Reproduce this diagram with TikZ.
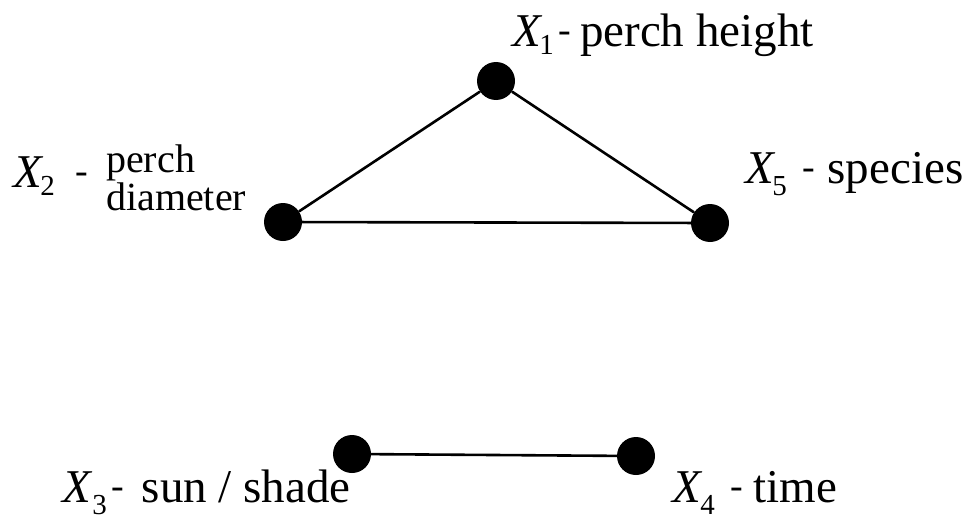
\documentclass[tikz,border=0pt]{standalone}
\usepackage{fontspec}
\setmainfont{Liberation Serif}[Ligatures=TeX]
\newfontfamily\labelfont{Liberation Serif}
\usepackage{tikz}
\usepackage{xcolor}

% variable name with a lowered index
\newcommand{\xvar}[3][8]{\textit{X}\kern#3pt\raisebox{-#1pt}{\fontsize{29}{29}\selectfont #2}}
% dash between name and meaning
\newcommand{\sep}[2]{\kern#1pt\raisebox{4pt}{\fontsize{38}{38}\selectfont -}\kern#2pt}

\begin{document}
\begin{tikzpicture}[x=1pt,y=-1pt,
  vertex/.style={circle, fill=black, draw=none, inner sep=0pt, minimum size=38pt},
  edge/.style={line width=2.6pt, black},
  lbl/.style={inner sep=0pt, anchor=base west, font=\labelfont\fontsize{47}{50}\selectfont},
  sublbl/.style={inner sep=0pt, anchor=north west, align=left, font=\labelfont\fontsize{40}{31}\selectfont}]
  \useasboundingbox (0,0) rectangle (963,519);

  % vertices
  \node[vertex] (x1) at (496,81) {};
  \node[vertex] (x2) at (283,222) {};
  \node[vertex] (x5) at (710,223) {};
  \node[vertex] (x3) at (352,454) {};
  \node[vertex] (x4) at (636,456) {};

  % edges
  \draw[edge] (x1) -- (x2);
  \draw[edge] (x1) -- (x5);
  \draw[edge] (x2) -- (x5);
  \draw[edge] (x3) -- (x4);

  % labels
  \node[lbl] (l1) at (512,47) {\xvar{1}{-3}\sep{4.5}{9}perch height};
  \node[lbl] (l2) at (13,187) {\xvar{2}{-3}\sep{21}{0}};
  \node[sublbl] (l2b) at (106,145) {perch\\diameter};
  \node[lbl] (l5) at (745,183) {\xvar[12]{5}{-3}\sep{16}{12}species};
  \node[lbl] (l3) at (62,502) {\xvar[12]{3}{0}\sep{4.3}{18}sun / shade};
  \node[lbl] (l4) at (672,502) {\xvar[12]{4}{-2}\sep{16}{10}time};
\end{tikzpicture}
\end{document}
